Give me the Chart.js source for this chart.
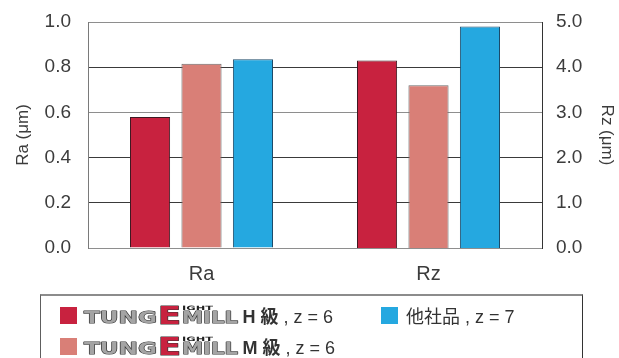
<!DOCTYPE html>
<html>
<head>
<meta charset="utf-8">
<script src="https://cdn.jsdelivr.net/npm/chart.js@4"></script>
<style>
  html, body { margin: 0; padding: 0; background: #fff; overflow: hidden; }
  #wrap { position: relative; width: 619px; height: 358px; }
  #chart { position: absolute; left: 0; top: 0; }
  #legend {
    position: absolute; left: 40px; top: 294px; width: 543px; height: 80px;
    box-sizing: border-box;
    border-top: 2px solid #8c8c8c; border-left: 1.5px solid #5e5e5e; border-right: 1.5px solid #333;
  }
  .item { position: absolute; height: 20px; white-space: nowrap; }
  .swatch { position: absolute; left: 0; top: 0; width: 17px; height: 17px; }
  .logo { position: absolute; left: 23px; top: -5px; }
  .txt {
    position: absolute; top: 0; line-height: 20px;
    font-family: "Liberation Sans", "Noto Sans CJK JP", sans-serif; font-size: 18px; color: #333;
  }
  .txt b { font-weight: bold; }
</style>
</head>
<body>
<div id="wrap">
  <canvas id="chart" width="619" height="358"></canvas>
  <div id="legend"></div>
</div>
<script>
// Surface roughness by tool
const categories = ['Ra', 'Rz'];
const seriesBrands = ['TUNGEMILL', 'TUNGEMILL', ''];
const seriesNames = ['H 級', 'M 級', '他社品'];
const fluteCounts = [6, 6, 7];
// values per category: [Ra (μm), Rz (μm)]
const hGradeValues = [0.58, 4.15];
const mGradeValues = [0.815, 3.6];
const otherValues = [0.835, 4.9];
const raTicks = [0, 0.2, 0.4, 0.6, 0.8, 1.0];
const rzTicks = [0, 1, 2, 3, 4, 5];
const axisTitles = ['Ra (μm)', 'Rz (μm)'];

const seriesValues = [hGradeValues, mGradeValues, otherValues];
const fills = ['#c8223f', '#d97f77', '#25a8e0'];
const edges = ['#3d1a22', '#6c6c6c', '#1d4a68'];
const FONT = '"Liberation Sans", Arial, sans-serif';
const TEXT = '#3c3c3c';

// each category is measured on its own axis: Ra on the left, Rz on the right
const datasets = [];
categories.forEach((cat, ci) => {
  seriesValues.forEach((vals, si) => {
    datasets.push({
      label: seriesNames[si],
      data: categories.map((_, k) => (k === ci ? vals[ci] : null)),
      yAxisID: ci === 0 ? 'yRa' : 'yRz',
      backgroundColor: fills[si],
      borderColor: edges[si],
      borderWidth: 1,
      skipNull: true,
      categoryPercentage: 0.68,
      barPercentage: 0.78
    });
  });
});

const gridColor = (c) => {
  const v = c.tick ? Math.round(c.tick.value * 10) : -1;
  return (v === 0 || v === 6 || v === 10) ? '#8e8e8e' : '#3a3a3a';
};

// fixed side widths; the outer layout padding keeps the plot edges in place
function fixWidth(w) {
  return (s) => { s.width = w; s.paddingTop = 0; s.paddingBottom = 0; };
}

new Chart(document.getElementById('chart'), {
  type: 'bar',
  data: { labels: categories, datasets },
  options: {
    responsive: false,
    animation: false,
    layout: { padding: { top: 22, bottom: 70, left: 0, right: 0 } },
    plugins: { legend: { display: false }, tooltip: { enabled: false } },
    scales: {
      x: {
        grid: { display: false, drawTicks: false },
        border: { display: false },
        ticks: { font: { family: FONT, size: 20 }, color: TEXT, padding: 14 },
        afterFit(s) { s.height = 40; }
      },
      yRa: {
        position: 'left',
        min: 0, max: 1,
        afterBuildTicks(s) { s.ticks = raTicks.map(v => ({ value: v })); },
        ticks: { callback: v => v.toFixed(1), font: { family: FONT, size: 19 }, color: TEXT, padding: 17 },
        grid: { color: gridColor, lineWidth: 1, drawTicks: false },
        border: { color: '#7a7a7a', width: 1 },
        title: { display: true, text: axisTitles[0], font: { family: FONT, size: 17 }, color: TEXT, padding: { top: 13, bottom: 0 } },
        afterFit: fixWidth(88)
      },
      yRz: {
        position: 'right',
        min: 0, max: 5,
        afterBuildTicks(s) { s.ticks = rzTicks.map(v => ({ value: v })); },
        ticks: { callback: v => v.toFixed(1), font: { family: FONT, size: 19 }, color: TEXT, padding: 14 },
        grid: { display: false, drawTicks: false },
        border: { color: '#333', width: 1 },
        title: { display: true, text: axisTitles[1], font: { family: FONT, size: 17 }, color: TEXT, padding: { top: 2, bottom: 0 } },
        afterFit: fixWidth(77)
      }
    }
  }
});

// Legend with the brand mark
const SVGNS = 'http://www.w3.org/2000/svg';
function svgText(parent, str, attrs) {
  const t = document.createElementNS(SVGNS, 'text');
  t.textContent = str;
  for (const k in attrs) t.setAttribute(k, attrs[k]);
  parent.appendChild(t);
}
function brandMark(name) {
  const svg = document.createElementNS(SVGNS, 'svg');
  svg.setAttribute('class', 'logo');
  svg.setAttribute('width', '160');
  svg.setAttribute('height', '26');
  const base = {
    'font-family': 'DejaVu Sans', 'font-weight': 'bold', 'lengthAdjust': 'spacingAndGlyphs',
    'stroke': '#343434', 'stroke-width': '1.1', 'paint-order': 'stroke', 'stroke-linejoin': 'round'
  };
  const head = name.slice(0, 4), mid = name.slice(4, 5), tail = name.slice(5);
  svgText(svg, head, Object.assign({}, base, { x: 1, y: 21, 'font-size': 16.5, textLength: 73, fill: '#a4a4a4' }));
  svgText(svg, mid, Object.assign({}, base, { x: 75, y: 22, 'font-size': 25, textLength: 23, fill: '#c8223f' }));
  svgText(svg, tail, Object.assign({}, base, { x: 99, y: 21, 'font-size': 16.5, textLength: 56, fill: '#a4a4a4' }));
  svgText(svg, 'IGHT', { x: 99, y: 8, 'font-family': 'DejaVu Sans', 'font-weight': 'bold', 'font-size': 6, textLength: 31, lengthAdjust: 'spacingAndGlyphs', fill: '#222' });
  return svg;
}

const legend = document.getElementById('legend');
const slots = [[18.5, 11], [18.5, 41.5], [340, 11]];
seriesNames.forEach((name, i) => {
  const item = document.createElement('div');
  item.className = 'item';
  item.style.left = slots[i][0] + 'px';
  item.style.top = slots[i][1] + 'px';
  const sw = document.createElement('span');
  sw.className = 'swatch';
  sw.style.background = fills[i];
  item.appendChild(sw);
  const txt = document.createElement('span');
  txt.className = 'txt';
  if (seriesBrands[i]) {
    item.appendChild(brandMark(seriesBrands[i]));
    txt.style.left = '183px';
    txt.innerHTML = '<b>' + name + '</b> , z = ' + fluteCounts[i];
  } else {
    txt.style.left = '25px';
    txt.textContent = name + ' , z = ' + fluteCounts[i];
  }
  item.appendChild(txt);
  legend.appendChild(item);
});
</script>
</body>
</html>
